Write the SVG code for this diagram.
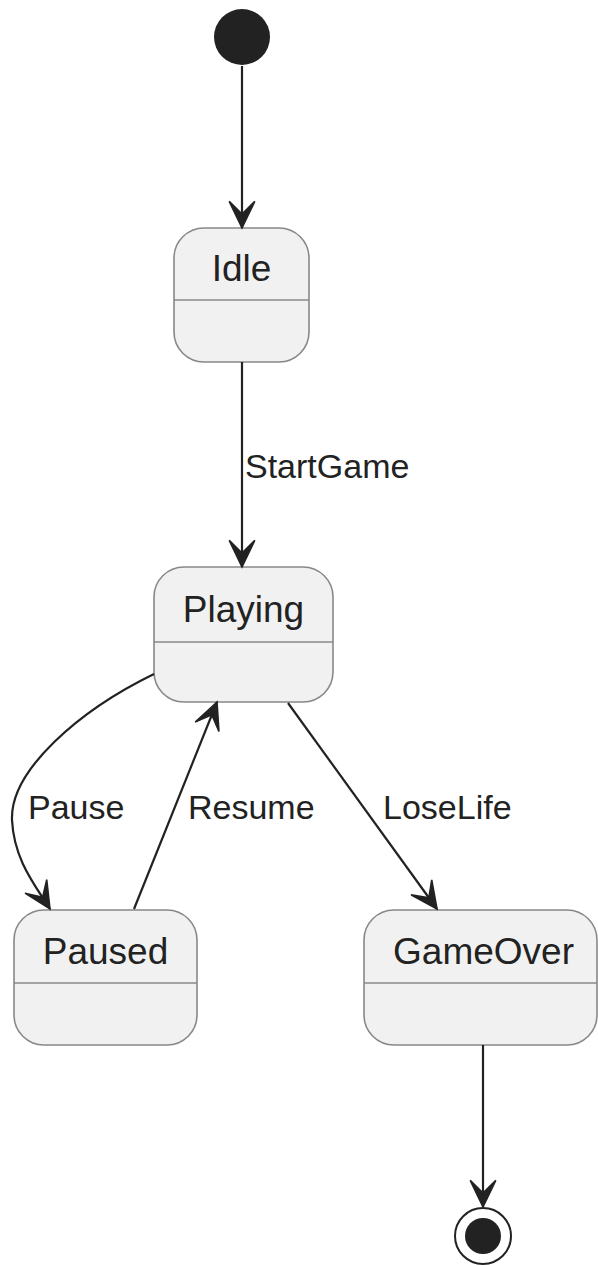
<svg xmlns="http://www.w3.org/2000/svg" width="598" height="1265" viewBox="0 0 598 1265">
<style>
.state{fill:#F1F1F1;stroke:#888888;stroke-width:1.6}
.div{stroke:#888888;stroke-width:1.6}
.name{font-family:"Liberation Sans",Arial,sans-serif;font-size:37px;fill:#222222;text-anchor:middle}
.lbl{font-family:"Liberation Sans",Arial,sans-serif;font-size:34px;fill:#222222}
.edge{fill:none;stroke:#222222;stroke-width:2.2}
</style>
<defs>
<marker id="arr" markerUnits="userSpaceOnUse" markerWidth="32" markerHeight="32" viewBox="-28 -14 30 28" refX="0" refY="0" orient="auto">
<path d="M0,0 L-25,-12 L-13,0 L-25,12 Z" fill="#222222" stroke="#222222" stroke-width="1.5" stroke-linejoin="miter"/>
</marker>
</defs>
<g id="start"><circle cx="242" cy="37" r="28" fill="#222222"/></g>
<g id="idle">
<rect class="state" x="174" y="228" width="135" height="134" rx="30" ry="30"/>
<line class="div" x1="174" y1="300" x2="309" y2="300"/>
<text class="name" x="241.5" y="281">Idle</text>
</g>
<g id="playing">
<rect class="state" x="154" y="567" width="179" height="135" rx="30" ry="30"/>
<line class="div" x1="154" y1="642" x2="333" y2="642"/>
<text class="name" x="243.5" y="622">Playing</text>
</g>
<g id="paused">
<rect class="state" x="14" y="910" width="183" height="135" rx="30" ry="30"/>
<line class="div" x1="14" y1="983" x2="197" y2="983"/>
<text class="name" x="105.5" y="964">Paused</text>
</g>
<g id="gameover">
<rect class="state" x="364" y="910" width="233" height="135" rx="30" ry="30"/>
<line class="div" x1="364" y1="983" x2="597" y2="983"/>
<text class="name" x="483.5" y="964">GameOver</text>
</g>
<g id="end">
<circle cx="483" cy="1236" r="28" fill="#FFFFFF" stroke="#222222" stroke-width="2"/>
<circle cx="483" cy="1236" r="18" fill="#222222"/>
</g>
<g id="connectors">
<path class="edge" d="M242,66 L242,228" marker-end="url(#arr)"/>
<path class="edge" d="M242,362 L242,567" marker-end="url(#arr)"/>
<text class="lbl" x="245" y="478">StartGame</text>
<path class="edge" d="M154,674 C80,710 10,770 12,820 C14,860 35,885 50,909" marker-end="url(#arr)"/>
<text class="lbl" x="28" y="819">Pause</text>
<path class="edge" d="M134,909 L217,702" marker-end="url(#arr)"/>
<text class="lbl" x="188" y="819">Resume</text>
<path class="edge" d="M288,703 L437,909" marker-end="url(#arr)"/>
<text class="lbl" x="383" y="819">LoseLife</text>
<path class="edge" d="M483,1045 L483,1207" marker-end="url(#arr)"/>
</g>
</svg>
